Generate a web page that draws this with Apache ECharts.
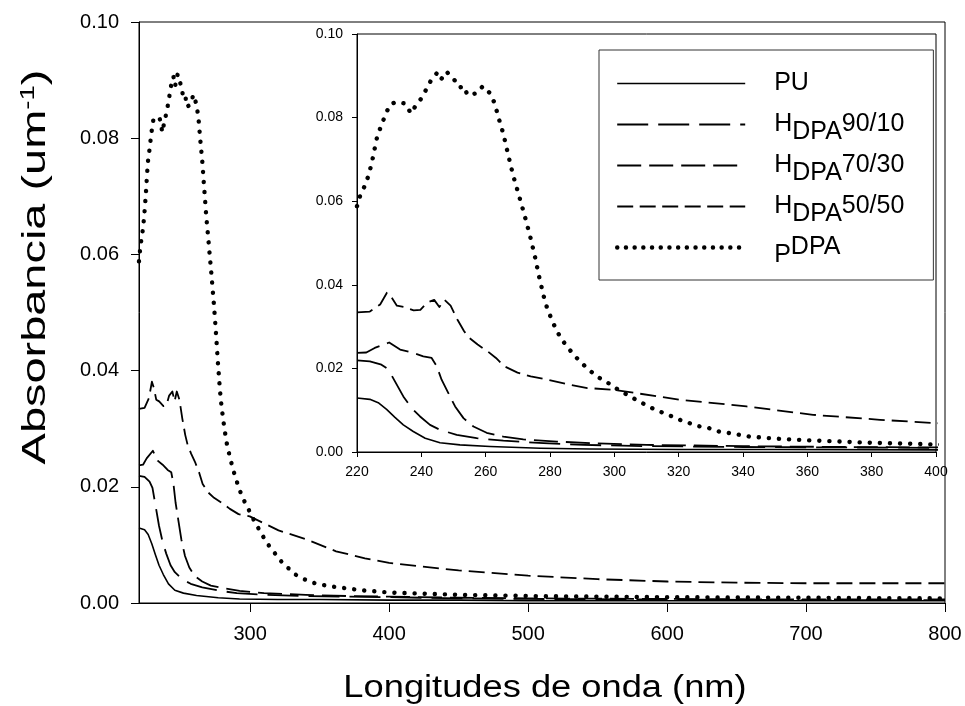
<!DOCTYPE html>
<html>
<head>
<meta charset="utf-8">
<script src="https://cdn.jsdelivr.net/npm/echarts@6/dist/echarts.min.js"></script>
<style>
html,body{margin:0;padding:0;background:#fff;}
#chart{width:965px;height:706px;}
</style>
</head>
<body>
<div id="chart"></div>
<script>
// ---- data (wavelength nm, absorbance um^-1) ----
const puX = [220,224,226.6,229.2,231.8,234.4,237.5,241.2,245.8,252,261.4,277,292.4,320,350,400,450,500,600,700,800];
const puY = [0.0129,0.0126,0.0118,0.0102,0.0083,0.0065,0.0049,0.0033,0.0022,0.0017,0.0013,0.0009,0.0007,0.0006,0.0006,0.0005,0.0005,0.0004,0.0004,0.0004,0.0004];

const h90X = [220,224,227.6,229.7,231.8,234.4,237,239.6,242.7,245.8,251,257.2,265.5,278,290.4,310,340,370,400,450,500,600,700,800];
const h90Y = [0.0219,0.0217,0.0209,0.0198,0.0169,0.0133,0.0105,0.0085,0.0065,0.0053,0.0041,0.0033,0.0027,0.0021,0.0017,0.0014,0.0012,0.0011,0.0010,0.0008,0.0007,0.0006,0.0005,0.0005];

const h70X = [220,222.9,225.5,230,233.4,237,240.6,243.2,244.8,246.3,248.4,250.5,253.1,256.2,260.3,265.5,271.7,282.1,292.4,310,340,370,400,450,500,600,700,800];
const h70Y = [0.0237,0.0238,0.0249,0.0262,0.0245,0.0238,0.0229,0.0225,0.0205,0.0173,0.0141,0.0109,0.0081,0.0061,0.0046,0.0037,0.0030,0.0025,0.0021,0.0017,0.0014,0.0012,0.0011,0.0009,0.0008,0.0007,0.0006,0.0006];

const h50X = [220,224,227.2,229.3,230.8,232.4,234.5,237.6,239.7,241.7,244,245.6,247.2,249.1,251.2,253.3,254.9,257.5,260.6,263.2,265.8,269.9,274,279.2,285.4,291.6,299.7,320.4,341.1,361.8,382.6,400,450,500,550,600,650,700,800];
const h50Y = [0.0334,0.0336,0.0353,0.0381,0.0369,0.0350,0.0347,0.0339,0.0340,0.0357,0.0364,0.0347,0.0364,0.0350,0.0317,0.0289,0.0273,0.0257,0.0241,0.0225,0.0205,0.0190,0.0181,0.0173,0.0162,0.0153,0.0149,0.0125,0.0109,0.0089,0.0077,0.0069,0.0056,0.0047,0.0041,0.0037,0.0035,0.0034,0.0034];

const pdX = [220,221,222.5,223.6,224.4,225.1,225.7,226.4,227.7,228.8,230.3,231.9,234.9,236.8,238.2,240,241.7,243.2,244.8,246,247.8,250.2,251.8,253.3,254.3,257.1,259.1,261.4,262.8,264,265.5,267,268.5,270.3,272.1,273.8,275.3,276.6,278.1,279,280.2,281.6,283.3,285.6,288.3,291.3,294.5,297.9,301,304.4,307.5,310.6,313.7,316.8,320,323,326,329.5,332.5,336,339,342,350,360,370,380,390,400,450,500,600,700,800];
const pdY = [0.0588,0.0614,0.0638,0.0662,0.0686,0.0710,0.0734,0.0759,0.0783,0.0807,0.0831,0.0837,0.0834,0.0810,0.0828,0.0846,0.0870,0.0892,0.0906,0.0890,0.0910,0.0891,0.0872,0.0875,0.0854,0.0858,0.0875,0.0858,0.0834,0.0800,0.0761,0.0711,0.0663,0.0615,0.0566,0.0517,0.0468,0.0420,0.0371,0.0347,0.0323,0.0298,0.0273,0.0249,0.0225,0.0202,0.0181,0.0166,0.0150,0.0135,0.0122,0.0109,0.0098,0.0089,0.0078,0.0070,0.0062,0.0057,0.0049,0.0045,0.0041,0.0037,0.0032,0.0028,0.0025,0.0022,0.0020,0.0018,0.0014,0.0012,0.0010,0.0009,0.0008];

const seriesNames = ['PU','HDPA90/10','HDPA70/30','HDPA50/50','PDPA'];
const mainXTicks = [300,400,500,600,700,800];
const yTickStep = 0.02;
const insetXStep = 20;

// ---- build ----
const FONT = "'Liberation Sans', Arial, sans-serif";
function zip(xs, ys){ return xs.map((x,i)=>[x, ys[i]]); }
const styles = [
  {type:'solid', width:1.6, cap:'butt'},
  {type:[31,10], width:1.8, cap:'butt'},
  {type:[24,8], width:1.8, cap:'butt'},
  {type:[16,7], width:1.8, cap:'butt'},
  {type:[0.1,10], width:4.4, cap:'round'}
];
const legendDash = [ 'solid', [31,10], [24,8], [16,6.5], [0.1,8.6] ];
const dataSets = [zip(puX,puY), zip(h90X,h90Y), zip(h70X,h70Y), zip(h50X,h50Y), zip(pdX,pdY)];

const series = [];
[0,1].forEach(function(g){
  dataSets.forEach(function(d,i){
    series.push({
      type:'line', name:seriesNames[i], data:d,
      xAxisIndex:g, yAxisIndex:g,
      symbol:'none', showSymbol:false, smooth:false, clip:true,
      animation:false, z: g===0 ? 2 : 8,
      itemStyle:{color:'#000'},
      lineStyle:{color:'#000', type:styles[i].type, width:styles[i].width, cap:styles[i].cap, join:'round'}
    });
  });
});

const legendFmt = {
  'PU':'{n0|PU}',
  'HDPA90/10':'{n0|H}{s|DPA}{n|90/10}',
  'HDPA70/30':'{n0|H}{s|DPA}{n|70/30}',
  'HDPA50/50':'{n0|H}{s|DPA}{n|50/50}',
  'PDPA':'{s0|P}{n|DPA}'
};
const LF = 25;

const option = {
  backgroundColor:'#fff',
  animation:false,
  grid:[
    {left:139, top:22, width:806, height:581, show:true, borderColor:'#000', borderWidth:1, backgroundColor:'transparent', z:0, containLabel:false, outerBoundsMode:'none'},
    {left:357, top:34, width:579, height:418, show:true, borderColor:'#000', borderWidth:1, backgroundColor:'#fff', z:5, containLabel:false, outerBoundsMode:'none'}
  ],
  xAxis:[
    {type:'value', gridIndex:0, min:220, max:800,
     axisLine:{onZero:false, lineStyle:{color:'#000', width:1}},
     axisTick:{show:true, length:9, customValues:mainXTicks, lineStyle:{color:'#000'}},
     axisLabel:{customValues:mainXTicks, fontFamily:FONT, fontSize:20, color:'#000', margin:21},
     splitLine:{show:false}},
    {type:'value', gridIndex:1, min:220, max:400, interval:insetXStep, z:6,
     axisLine:{onZero:false, lineStyle:{color:'#000', width:1}},
     axisTick:{show:true, length:5, lineStyle:{color:'#000'}},
     axisLabel:{fontFamily:FONT, fontSize:14, color:'#000', margin:13, showMinLabel:true, showMaxLabel:true},
     splitLine:{show:false}}
  ],
  yAxis:[
    {type:'value', gridIndex:0, min:0, max:0.1, interval:yTickStep,
     axisLine:{show:true, onZero:false, lineStyle:{color:'#000', width:1}},
     axisTick:{show:true, length:8, lineStyle:{color:'#000'}},
     axisLabel:{fontFamily:FONT, fontSize:20, color:'#000', margin:20, formatter:function(v){return v.toFixed(2);}},
     splitLine:{show:false}},
    {type:'value', gridIndex:1, min:0, max:0.1, interval:yTickStep, z:6,
     axisLine:{show:true, onZero:false, lineStyle:{color:'#000', width:1}},
     axisTick:{show:true, length:5, lineStyle:{color:'#000'}},
     axisLabel:{fontFamily:FONT, fontSize:14, color:'#000', margin:14, formatter:function(v){return v.toFixed(2);}},
     splitLine:{show:false}}
  ],
  legend:{
    show:true, orient:'vertical', left:599, top:50, z:20,
    data:seriesNames.map(function(n,i){
      return {name:n, itemStyle:{opacity:0},
        lineStyle:{color:'#000', type:legendDash[i], width:styles[i].width, cap:styles[i].cap, opacity:1}};
    }),
    itemWidth:128, itemHeight:14, itemGap:0,
    padding:[13,29,12,16],
    itemStyle:{opacity:0},
    backgroundColor:'#fff', borderColor:'#333', borderWidth:1,
    selectedMode:false,
    formatter:function(n){ return legendFmt[n]; },
    textStyle:{fontFamily:FONT, fontSize:LF, color:'#000',
      rich:{
        n:{fontFamily:FONT, fontSize:LF, color:'#000', lineHeight:22, padding:[8,0,8,0]},
        n0:{fontFamily:FONT, fontSize:LF, color:'#000', lineHeight:22, padding:[8,0,8,24]},
        s:{fontFamily:FONT, fontSize:LF, color:'#000', lineHeight:22, padding:[16,0,0,0]},
        s0:{fontFamily:FONT, fontSize:LF, color:'#000', lineHeight:22, padding:[16,0,0,24]}
      }}
  },
  graphic:[
    {type:'text', x:545, y:688, scaleX:1.17, z:30,
     style:{text:'Longitudes de onda (nm)', fontFamily:FONT, fontSize:31, fill:'#000',
       align:'center', verticalAlign:'middle'}},
    {type:'text', x:36, y:267, rotation:Math.PI/2, scaleX:1.38, z:30,
     style:{text:'Absorbancia (um{sup|-1})', fontFamily:FONT, fontSize:34, fill:'#000',
       align:'center', verticalAlign:'middle',
       rich:{sup:{fontFamily:FONT, fontSize:20, fill:'#000', verticalAlign:'top', lineHeight:36}}}}
  ],
  series:series
};

const chart = echarts.init(document.getElementById('chart'), null, {renderer:'canvas'});
chart.setOption(option);
</script>
</body>
</html>
